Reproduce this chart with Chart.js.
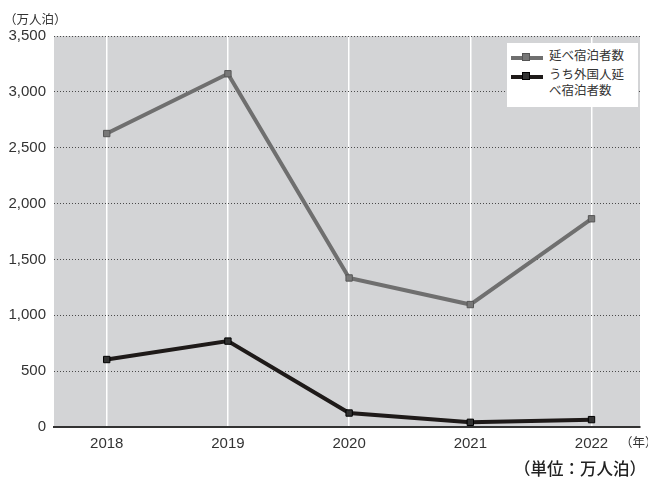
<!DOCTYPE html>
<html>
<head>
<meta charset="utf-8">
<script src="https://cdn.jsdelivr.net/npm/chart.js@4"></script>
<style>
  body { margin: 0; background: #fff; }
  #wrap { position: relative; width: 648px; height: 477px; }
  #chart { position: absolute; left: 0; top: 0; }
  .txt { position: absolute; font-family: "Noto Sans CJK JP", "Noto Sans", sans-serif; color: #333; white-space: nowrap; }
  #legend { position: absolute; left: 507px; top: 43px; width: 131px; height: 64px; background: #fff; }
  .row { position: absolute; left: 0; }
  .sample { position: absolute; left: 4px; width: 32px; height: 4px; }
  .mark { position: absolute; left: 11px; top: -3px; width: 8px; height: 8px; box-sizing: border-box; border: 1px solid; }
  .lab { position: absolute; left: 42px; font-size: 12.5px; line-height: 16px; color: #333; font-family: "Noto Sans CJK JP", sans-serif; }
</style>
</head>
<body>
<div id="wrap">
  <canvas id="chart" width="648" height="477"></canvas>
  <div class="txt" style="left:4px; top:9px; font-size:12.5px;">（万人泊）</div>
  <div class="txt" style="left:620px; top:432px; font-size:12.5px;">（年）</div>
  <div class="txt" style="left:514px; top:456px; font-size:16.5px; font-weight:500; color:#222;">（単位：万人泊）</div>
  <div id="legend">
    <div class="row" style="top:13px;">
      <div class="sample" style="background:#6f6f6f;"><div class="mark" style="background:#777; border-color:#555;"></div></div>
    </div>
    <div class="lab" style="top:4px;">延べ宿泊者数</div>
    <div class="row" style="top:32px;">
      <div class="sample" style="background:#1e1a19;"><div class="mark" style="background:#333; border-color:#000;"></div></div>
    </div>
    <div class="lab" style="top:23px;">うち外国人延<br>べ宿泊者数</div>
  </div>
</div>
<script>
const years = [2018, 2019, 2020, 2021, 2022];
const totalStays = [2627, 3162, 1334, 1096, 1864];
const foreignStays = [604, 769, 125, 42, 66];
const yTicks = [0, 500, 1000, 1500, 2000, 2500, 3000, 3500];

const seriesNames = ['延べ宿泊者数', 'うち外国人延べ宿泊者数'];

function toPoints(vals) {
    return years.map((yr, i) => ({ x: yr, y: vals[i] }));
}

// gray plot background
const plotBg = {
    id: 'plotBg',
    beforeDraw(chart) {
        const a = chart.chartArea;
        const ctx = chart.ctx;
        ctx.save();
        ctx.fillStyle = '#d3d4d6';
        ctx.fillRect(a.left, a.top, a.right - a.left, a.bottom - a.top);
        ctx.restore();
    }
};

const ctx = document.getElementById('chart');
new Chart(ctx, {
    type: 'line',
    data: {
        datasets: [{
            label: seriesNames[0],
            data: toPoints(totalStays),
            borderColor: '#6f6f6f',
            borderWidth: 4,
            pointStyle: 'rect',
            pointRadius: 4.5,
            pointBackgroundColor: '#787878',
            pointBorderColor: '#555',
            pointBorderWidth: 1,
            tension: 0
        }, {
            label: seriesNames[1],
            data: toPoints(foreignStays),
            borderColor: '#1e1a19',
            borderWidth: 4,
            pointStyle: 'rect',
            pointRadius: 4.5,
            pointBackgroundColor: '#333',
            pointBorderColor: '#000',
            pointBorderWidth: 1,
            tension: 0
        }]
    },
    options: {
        responsive: false,
        animation: false,
        layout: { padding: { top: 36, right: 8, bottom: 0, left: 0 } },
        plugins: {
            legend: { display: false },
            tooltip: { enabled: false }
        },
        scales: {
            x: {
                type: 'linear',
                min: 2017.565,
                max: 2022.4,
                afterBuildTicks: s => { s.ticks = years.map(v => ({ value: v })); },
                afterFit: s => { s.height = 50; },
                grid: { color: '#ffffff', lineWidth: 1.5, drawTicks: false },
                border: { display: true, color: '#333', width: 2 },
                ticks: {
                    padding: 8,
                    color: '#333',
                    font: { family: 'Liberation Sans', size: 15 },
                    callback: v => String(v)
                }
            },
            y: {
                min: 0,
                max: 3500,
                afterBuildTicks: s => { s.ticks = yTicks.map(v => ({ value: v })); },
                afterFit: s => { s.width = 54; },
                grid: {
                    color: c => c.tick && c.tick.value === 0 ? 'rgba(0,0,0,0)' : '#4a4a4a',
                    lineWidth: 1,
                    drawTicks: false
                },
                border: { display: false, dash: [1, 2] },
                ticks: {
                    padding: 8,
                    color: '#333',
                    font: { family: 'Liberation Sans', size: 15 },
                    callback: v => v.toLocaleString('en-US')
                }
            }
        }
    },
    plugins: [plotBg]
});
</script>
</body>
</html>
